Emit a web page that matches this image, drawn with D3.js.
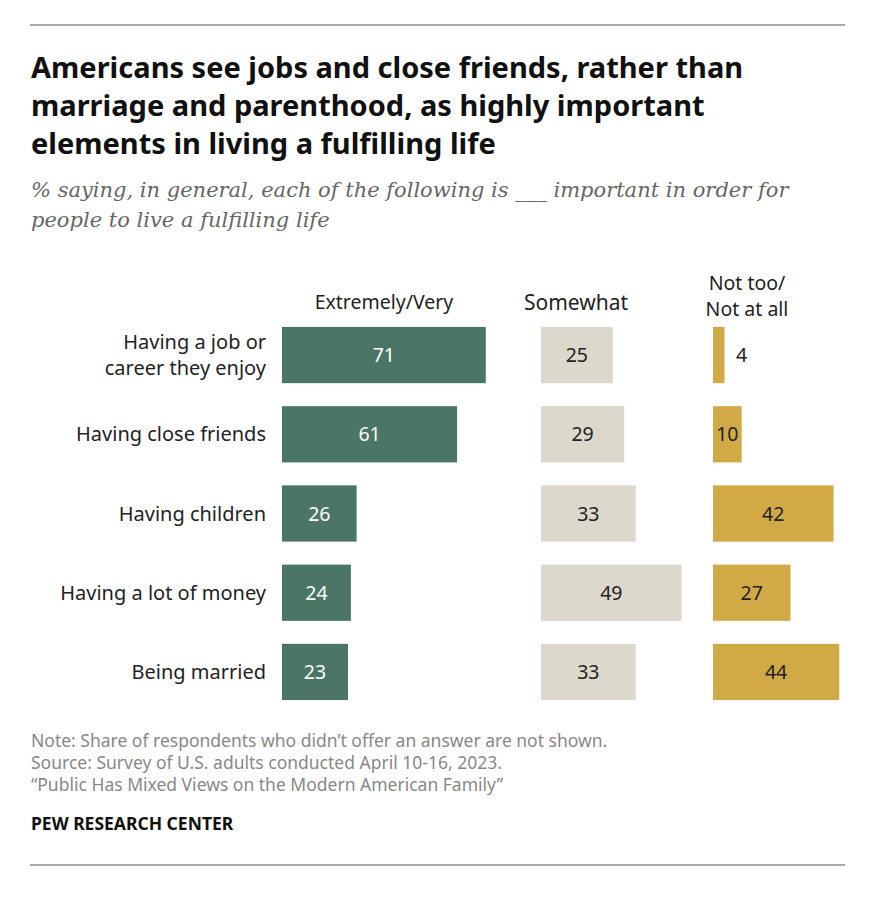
<!DOCTYPE html>
<html><head><meta charset="utf-8">
<script src="https://cdn.jsdelivr.net/npm/d3@7"></script>
<style>body{margin:0;background:#fff}</style>
</head><body><div id="chart"></div>
<script>
const width = 876, height = 900;

const categories = [["Having a job or", "career they enjoy"], ["Having close friends"], ["Having children"], ["Having a lot of money"], ["Being married"]];
const extremelyVery = [71, 61, 26, 24, 23];
const somewhat = [25, 29, 33, 49, 33];
const notToo = [4, 10, 42, 27, 44];

const columns = [
  {values: extremelyVery, x0: 282, fill: '#4b7565', text: '#fff'},
  {values: somewhat, x0: 541, fill: '#dcd8cb', text: '#222'},
  {values: notToo, x0: 713, fill: '#d1aa46', text: '#222'}
];

const svg = d3.select('#chart').append('svg')
  .attr('width', width).attr('height', height)
  .attr('font-family', '"Noto Sans", Roboto, sans-serif');

const y = d3.scaleBand().domain(d3.range(categories.length)).range([319, 708]).paddingInner(0.29).paddingOuter(0.1);
const w = d3.scaleLinear().domain([0, 100]).range([0, 287]);

svg.append('line').attr('x1', 30).attr('x2', 845).attr('y1', 25).attr('y2', 25).attr('stroke', '#555');
svg.append('line').attr('x1', 30).attr('x2', 845).attr('y1', 865).attr('y2', 865).attr('stroke', '#555');

svg.append('text').attr('font-size', 29).attr('font-weight', 700).attr('fill', '#111')
  .selectAll('tspan')
  .data(['Americans see jobs and close friends, rather than', 'marriage and parenthood, as highly important', 'elements in living a fulfilling life'])
  .join('tspan').attr('x', 31).attr('y', (d, i) => 78 + i * 38).text(d => d);

svg.append('text').attr('font-size', 21).attr('font-style', 'italic').attr('fill', '#666')
  .attr('font-family', 'Georgia, "DejaVu Serif", "Liberation Serif", serif')
  .selectAll('tspan')
  .data(['% saying, in general, each of the following is ___ important in order for', 'people to live a fulfilling life'])
  .join('tspan').attr('x', 31).attr('y', (d, i) => 197 + i * 30).text(d => d);

svg.append('text').attr('x', 384).attr('y', 309).attr('text-anchor', 'middle').attr('font-size', 19.5).attr('fill', '#222').text('Extremely/Very');
svg.append('text').attr('x', 576).attr('y', 310).attr('text-anchor', 'middle').attr('font-size', 21).attr('fill', '#222').text('Somewhat');
svg.append('text').attr('text-anchor', 'middle').attr('font-size', 19.5).attr('fill', '#222')
  .selectAll('tspan').data(['Not too/', 'Not at all'])
  .join('tspan').attr('x', 747).attr('y', (d, i) => 290 + i * 26).text(d => d);

// category labels
svg.append('g').selectAll('text').data(categories).join('text')
  .attr('text-anchor', 'end').attr('font-size', 20).attr('fill', '#222')
  .each(function(lines, i) {
    const cy = y(i) + y.bandwidth() / 2;
    d3.select(this).selectAll('tspan').data(lines).join('tspan')
      .attr('x', 266)
      .attr('y', (d, j) => cy + 7 + (j - (lines.length - 1) / 2) * 26)
      .text(d => d);
  });

columns.forEach(col => {
  const g = svg.append('g');
  g.selectAll('rect').data(col.values).join('rect')
    .attr('x', col.x0).attr('y', (d, i) => y(i))
    .attr('width', d => w(d)).attr('height', y.bandwidth())
    .attr('fill', col.fill);
  g.selectAll('text').data(col.values).join('text')
    .attr('x', d => d < 8 ? col.x0 + w(d) + 17 : col.x0 + w(d) / 2)
    .attr('y', (d, i) => y(i) + y.bandwidth() / 2 + 7)
    .attr('text-anchor', 'middle').attr('font-size', 19.5)
    .attr('fill', d => d < 8 ? '#222' : col.text)
    .text(d => d);
});

svg.append('text').attr('font-size', 17.5).attr('fill', '#888')
  .selectAll('tspan')
  .data(['Note: Share of respondents who didn\u2019t offer an answer are not shown.', 'Source: Survey of U.S. adults conducted April 10-16, 2023.', '\u201cPublic Has Mixed Views on the Modern American Family\u201d'])
  .join('tspan').attr('x', 31).attr('y', (d, i) => 747 + i * 22).text(d => d);

svg.append('text').attr('x', 31).attr('y', 830).attr('font-size', 17.5).attr('font-weight', 700).attr('fill', '#111').text('PEW RESEARCH CENTER');
</script></body></html>
